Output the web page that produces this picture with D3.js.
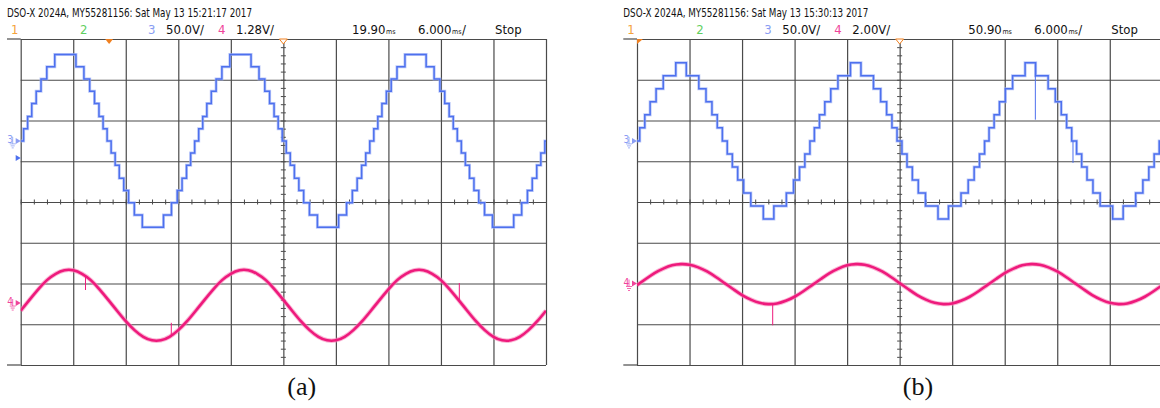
<!DOCTYPE html>
<html>
<head>
<meta charset="utf-8">
<script src="https://cdn.jsdelivr.net/npm/d3@7"></script>
<style>
  html, body { margin: 0; padding: 0; background: #fff; }
  svg { display: block; }
  .hdr { font-family: "Liberation Sans Narrow", "Arial Narrow", "DejaVu Sans Condensed", sans-serif; fill: #111; }
  .grid line { stroke: #4a4a4a; stroke-width: 1.2; }
  .grid path { display: none; }
  .minor line { stroke: #4a4a4a; stroke-width: 1; }
  .minor path { display: none; }
  .caption { font-family: "Liberation Serif", "Times New Roman", serif; font-size: 26px; fill: #111; }
</style>
</head>
<body>
<div id="wrapper"></div>
<script>
// screen time is ms from the left graticule edge (10 div x 6 ms), vertical in divisions
const timeTicks = [0, 6, 12, 18, 24, 30, 36, 42, 48, 54, 60]
const divTicks = [-4, -3, -2, -1, 0, 1, 2, 3, 4]

// ---------- panel (a) ----------
const headerA = 'DSO-X 2024A, MY55281156: Sat May 13 15:21:17 2017'
const ch3LabelA = '50.0V/'
const ch4LabelA = '1.28V/'
const delayA = 19.90
const timebaseA = 6.000
const ch3ScaleA = 50.0
const ch4ScaleA = 1.28
const ch3OffsetA = 1.5     // div
const ch4OffsetA = -2.48   // div

// stepped inverter voltage (ch3): time of each step, level after the step (V)
const blueTimesA = [0,
  0.33, 0.79, 1.26, 1.77, 2.32, 2.98, 3.89, 6.31, 7.22, 7.88, 8.43, 8.94, 9.41, 9.87,
  10.33, 10.79, 11.26, 11.77, 12.32, 12.98, 13.89, 16.31, 17.22, 17.88, 18.43, 18.94, 19.41, 19.87,
  20.33, 20.79, 21.26, 21.77, 22.32, 22.98, 23.89, 26.31, 27.22, 27.88, 28.43, 28.94, 29.41, 29.87,
  30.33, 30.79, 31.26, 31.77, 32.32, 32.98, 33.89, 36.31, 37.22, 37.88, 38.43, 38.94, 39.41, 39.87,
  40.33, 40.79, 41.26, 41.77, 42.32, 42.98, 43.89, 46.31, 47.22, 47.88, 48.43, 48.94, 49.41, 49.87,
  50.33, 50.79, 51.26, 51.77, 52.32, 52.98, 53.89, 56.31, 57.22, 57.88, 58.43, 58.94, 59.41, 59.87,
  60]
const blueVoltsA = [0,
  15, 30, 46, 61, 76, 91, 106, 91, 76, 61, 46, 30, 15, 0,
  -15, -30, -46, -61, -76, -91, -106, -91, -76, -61, -46, -30, -15, 0,
  15, 30, 46, 61, 76, 91, 106, 91, 76, 61, 46, 30, 15, 0,
  -15, -30, -46, -61, -76, -91, -106, -91, -76, -61, -46, -30, -15, 0,
  15, 30, 46, 61, 76, 91, 106, 91, 76, 61, 46, 30, 15, 0,
  -15, -30, -46, -61, -76, -91, -106, -91, -76, -61, -46, -30, -15, 0,
  0]
const blueSpikesA = []

// load current (ch4), sampled every ms
const pinkTimes = [0, 1, 2, 3, 4, 5, 6, 7, 8, 9, 10, 11, 12, 13, 14, 15, 16, 17, 18, 19,
  20, 21, 22, 23, 24, 25, 26, 27, 28, 29, 30, 31, 32, 33, 34, 35, 36, 37, 38, 39,
  40, 41, 42, 43, 44, 45, 46, 47, 48, 49, 50, 51, 52, 53, 54, 55, 56, 57, 58, 59, 60]
const pinkVoltsA = [
  -0.24, 0.10, 0.43, 0.72, 0.92, 1.03, 1.03, 0.92, 0.72, 0.43, 0.10, -0.24, -0.57, -0.85, -1.06, -1.17, -1.17, -1.06, -0.85, -0.57,
  -0.24, 0.10, 0.43, 0.72, 0.92, 1.03, 1.03, 0.92, 0.72, 0.43, 0.10, -0.24, -0.57, -0.85, -1.06, -1.17, -1.17, -1.06, -0.85, -0.57,
  -0.24, 0.10, 0.43, 0.72, 0.92, 1.03, 1.03, 0.92, 0.72, 0.43, 0.10, -0.24, -0.57, -0.85, -1.06, -1.17, -1.17, -1.06, -0.85, -0.57,
  -0.24]
// glitches: [time, from V, to V]
const pinkSpikesA = [[7.4, 0.85, 0.41], [17.2, -1.06, -0.62], [50.1, 0.07, 0.63]]

// ---------- panel (b) ----------
const headerB = 'DSO-X 2024A, MY55281156: Sat May 13 15:30:13 2017'
const ch3LabelB = '50.0V/'
const ch4LabelB = '2.00V/'
const delayB = 50.90
const timebaseB = 6.000
const ch3ScaleB = 50.0
const ch4ScaleB = 2.00
const ch3OffsetB = 1.5
const ch4OffsetB = -2.0

const blueTimesB = [0,
  0.31, 0.89, 1.50, 2.18, 3.00, 4.43, 5.63, 7.06, 7.88, 8.56, 9.17, 9.75,
  10.31, 10.89, 11.50, 12.18, 13.00, 14.43, 15.63, 17.06, 17.88, 18.56, 19.17, 19.75,
  20.26, 20.84, 21.45, 22.13, 22.95, 24.38, 25.58, 27.01, 27.83, 28.51, 29.12, 29.70,
  30.26, 30.84, 31.45, 32.13, 32.95, 34.38, 35.58, 37.01, 37.83, 38.51, 39.12, 39.70,
  40.21, 40.79, 41.40, 42.08, 42.90, 44.33, 45.53, 46.96, 47.78, 48.46, 49.07, 49.65,
  50.21, 50.79, 51.40, 52.08, 52.90, 54.33, 55.53, 56.96, 57.78, 58.46, 59.07, 59.65,
  60]
const blueVoltsB = [0,
  16, 32, 48, 64, 80, 96, 80, 64, 48, 32, 16, 0,
  -16, -32, -48, -64, -80, -96, -80, -64, -48, -32, -16, 0,
  16, 32, 48, 64, 80, 96, 80, 64, 48, 32, 16, 0,
  -16, -32, -48, -64, -80, -96, -80, -64, -48, -32, -16, 0,
  16, 32, 48, 64, 80, 96, 80, 64, 48, 32, 16, 0,
  -16, -32, -48, -64, -80, -96, -80, -64, -48, -32, -16, 0,
  0]
const blueSpikesB = [[45.5, 96, 26], [49.8, 0, -27]]

const pinkVoltsB = [
  -0.08, 0.22, 0.51, 0.73, 0.89, 0.95, 0.92, 0.79, 0.59, 0.32, 0.02, -0.28, -0.57, -0.79, -0.95, -1.01, -0.98, -0.85, -0.65, -0.38,
  -0.08, 0.22, 0.51, 0.73, 0.89, 0.95, 0.92, 0.79, 0.59, 0.32, 0.02, -0.28, -0.57, -0.79, -0.95, -1.01, -0.98, -0.85, -0.65, -0.38,
  -0.08, 0.22, 0.51, 0.73, 0.89, 0.95, 0.92, 0.79, 0.59, 0.32, 0.02, -0.28, -0.57, -0.79, -0.95, -1.01, -0.98, -0.85, -0.65, -0.38,
  -0.08]
const pinkSpikesB = [[15.5, -0.99, -2.05]]

// ---------- drawing ----------
const colors = {
  ch1: '#f4a23c', ch2: '#5fcf5f', ch3: '#8a9df3', ch4: '#f0449a',
  blue: '#4d70ee', blueHalo: '#9fb2f7', pink: '#ee1a7c', pinkHalo: '#f686b9',
  trig: '#f08020'
}

const dimensions = { width: 1160, height: 408, top: 39, bottom: 365, gridWidth: 525.3 }

const wrapper = d3.select('#wrapper')
  .append('svg')
  .attr('width', dimensions.width)
  .attr('height', dimensions.height)

function drawScope(p) {
  const left = p.left
  const xScale = d3.scaleLinear().domain([0, 60]).range([left, left + dimensions.gridWidth])
  const yScale = d3.scaleLinear().domain([-4, 4]).range([dimensions.bottom, dimensions.top])
  const yCh3 = v => yScale(v / p.ch3Scale + p.ch3Offset)
  const yCh4 = v => yScale(v / p.ch4Scale + p.ch4Offset)

  const g = wrapper.append('g')

  // header, first line
  g.append('text')
    .attr('class', 'hdr')
    .attr('x', left - 13.7)
    .attr('y', 17)
    .attr('font-size', 12)
    .attr('textLength', 245)
    .attr('lengthAdjust', 'spacingAndGlyphs')
    .text(p.header)

  // header, second line
  const line2 = (dx, txt, color) => g.append('text')
    .attr('class', 'hdr')
    .attr('x', left + dx)
    .attr('y', 33.5)
    .attr('font-size', 13)
    .style('fill', color || '#111')
    .text(txt)

  line2(-9.7, '1', colors.ch1)
  line2(59.3, '2', colors.ch2)
  line2(127.3, '3', colors.ch3)
  line2(145.3, p.ch3Label)
  line2(197.3, '4', colors.ch4)
  line2(215.3, p.ch4Label)

  // number with the tiny "ms" unit, all in one text element
  const withUnit = (dx, txt, slash) => {
    const t = line2(dx, txt)
    t.append('tspan').attr('font-size', 7).attr('dx', 0.6).text('ms')
    if (slash) t.append('tspan').attr('dx', 0.5).text('/')
  }
  withUnit(331.3, p.delay.toFixed(2), false)
  withUnit(397.3, p.timebase.toFixed(3), true)
  line2(474.3, 'Stop')

  // graticule
  g.append('g')
    .attr('class', 'grid')
    .attr('transform', `translate(0,${dimensions.bottom})`)
    .call(d3.axisBottom(xScale)
      .tickValues(timeTicks)
      .tickSize(-(dimensions.bottom - dimensions.top))
      .tickFormat(''))

  g.append('g')
    .attr('class', 'grid')
    .attr('transform', `translate(${left},0)`)
    .call(d3.axisLeft(yScale)
      .tickValues(divTicks)
      .tickSize(-dimensions.gridWidth)
      .tickFormat(''))

  // top and bottom frame lines run out past the left edge
  g.selectAll('line.frame')
    .data([dimensions.top, dimensions.bottom])
    .join('line')
    .attr('class', 'frame')
    .attr('x1', left - 13.7)
    .attr('x2', left)
    .attr('y1', d => d)
    .attr('y2', d => d)
    .attr('stroke', '#4a4a4a')
    .attr('stroke-width', 1.2)

  // minor ticks on the centre cross
  const hMinor = d3.range(0, 60.01, 1.5)
  const vMinor = d3.range(-4, 4.01, 0.2)
  const y0 = yScale(0), x0 = xScale(30)
  g.append('g').attr('class', 'minor').attr('transform', `translate(0,${y0})`)
    .call(d3.axisBottom(xScale).tickValues(hMinor).tickSize(2.5).tickFormat(''))
  g.append('g').attr('class', 'minor').attr('transform', `translate(0,${y0})`)
    .call(d3.axisTop(xScale).tickValues(hMinor).tickSize(2.5).tickFormat(''))
  g.append('g').attr('class', 'minor').attr('transform', `translate(${x0},0)`)
    .call(d3.axisLeft(yScale).tickValues(vMinor).tickSize(2.5).tickFormat(''))
  g.append('g').attr('class', 'minor').attr('transform', `translate(${x0},0)`)
    .call(d3.axisRight(yScale).tickValues(vMinor).tickSize(2.5).tickFormat(''))

  // traces
  const plot = g.append('g')
  plot.append('clipPath').attr('id', 'clip' + p.id)
    .append('rect')
    .attr('x', left).attr('y', dimensions.top)
    .attr('width', dimensions.gridWidth).attr('height', dimensions.bottom - dimensions.top)
  plot.attr('clip-path', `url(#clip${p.id})`)

  const blueLine = d3.line()
    .x((d, i) => xScale(p.blueTimes[i]))
    .y(d => yCh3(d))
    .curve(d3.curveStepAfter)

  const pinkLine = d3.line()
    .x((d, i) => xScale(pinkTimes[i]))
    .y(d => yCh4(d))
    .curve(d3.curveNatural)

  plot.append('path')
    .attr('d', blueLine(p.blueVolts))
    .attr('fill', 'none')
    .attr('stroke', colors.blueHalo)
    .attr('stroke-width', 3)
    .attr('opacity', 0.7)
  plot.append('path')
    .attr('d', blueLine(p.blueVolts))
    .attr('fill', 'none')
    .attr('stroke', colors.blue)
    .attr('stroke-width', 1.5)

  plot.selectAll('line.bspike')
    .data(p.blueSpikes)
    .join('line')
    .attr('class', 'bspike')
    .attr('x1', d => xScale(d[0])).attr('x2', d => xScale(d[0]))
    .attr('y1', d => yCh3(d[1])).attr('y2', d => yCh3(d[2]))
    .attr('stroke', colors.blue)
    .attr('stroke-width', 1)

  plot.append('path')
    .attr('d', pinkLine(p.pinkVolts))
    .attr('fill', 'none')
    .attr('stroke', colors.pinkHalo)
    .attr('stroke-width', 4.5)
    .attr('opacity', 0.6)
  plot.append('path')
    .attr('d', pinkLine(p.pinkVolts))
    .attr('fill', 'none')
    .attr('stroke', colors.pink)
    .attr('stroke-width', 2.6)

  plot.selectAll('line.pspike')
    .data(p.pinkSpikes)
    .join('line')
    .attr('class', 'pspike')
    .attr('x1', d => xScale(d[0])).attr('x2', d => xScale(d[0]))
    .attr('y1', d => yCh4(d[1])).attr('y2', d => yCh4(d[2]))
    .attr('stroke', colors.pink)
    .attr('stroke-width', 1)

  // channel ground markers
  const chanMarker = (yy, label, color) => {
    g.append('text')
      .attr('class', 'hdr')
      .attr('x', left - 13.5)
      .attr('y', yy + 2)
      .attr('font-size', 10)
      .style('fill', color)
      .text(label)
    g.append('path')
      .attr('d', `M${left - 8},${yy - 4}V${yy + 3}M${left - 11},${yy + 3}H${left - 5}M${left - 10},${yy + 5}H${left - 6}M${left - 9},${yy + 7}H${left - 7}`)
      .attr('stroke', color)
      .attr('stroke-width', 0.8)
      .attr('fill', 'none')
    g.append('path')
      .attr('d', `M${left - 5},${yy - 3}L${left},${yy}L${left - 5},${yy + 3}Z`)
      .attr('fill', color)
  }
  chanMarker(yCh3(0), '3', colors.ch3)
  chanMarker(yCh4(0), '4', colors.ch4)
  if (p.trigLevel !== null) {
    const ty = yCh3(p.trigLevel)
    g.append('path')
      .attr('d', `M${left - 5},${ty - 3}L${left},${ty}L${left - 5},${ty + 3}Z`)
      .attr('fill', colors.blue)
  }

  // trigger position and delay reference
  const trigT = 30 - p.delay
  if (trigT >= 0) {
    const tx = xScale(trigT)
    g.append('path')
      .attr('d', `M${tx - 4},${dimensions.top}L${tx + 4},${dimensions.top}L${tx},${dimensions.top + 5}Z`)
      .attr('fill', colors.trig)
  } else {
    g.append('path')
      .attr('d', `M${left},${dimensions.top}L${left + 6},${dimensions.top}L${left},${dimensions.top + 5}Z`)
      .attr('fill', colors.trig)
  }
  const rx = xScale(30)
  g.append('path')
    .attr('d', `M${rx - 4},${dimensions.top}L${rx + 4},${dimensions.top}L${rx},${dimensions.top + 5}Z`)
    .attr('fill', '#fff')
    .attr('stroke', colors.trig)
    .attr('stroke-width', 1)

  // caption
  g.append('text')
    .attr('class', 'caption')
    .attr('x', left + 281)
    .attr('y', 395)
    .attr('text-anchor', 'middle')
    .text(p.caption)
}

drawScope({
  id: 'a', left: 20.7, caption: '(a)', header: headerA,
  ch3Label: ch3LabelA, ch4Label: ch4LabelA, delay: delayA, timebase: timebaseA,
  ch3Scale: ch3ScaleA, ch4Scale: ch4ScaleA, ch3Offset: ch3OffsetA, ch4Offset: ch4OffsetA,
  blueTimes: blueTimesA, blueVolts: blueVoltsA, blueSpikes: blueSpikesA,
  pinkVolts: pinkVoltsA, pinkSpikes: pinkSpikesA, trigLevel: -21
})

drawScope({
  id: 'b', left: 637, caption: '(b)', header: headerB,
  ch3Label: ch3LabelB, ch4Label: ch4LabelB, delay: delayB, timebase: timebaseB,
  ch3Scale: ch3ScaleB, ch4Scale: ch4ScaleB, ch3Offset: ch3OffsetB, ch4Offset: ch4OffsetB,
  blueTimes: blueTimesB, blueVolts: blueVoltsB, blueSpikes: blueSpikesB,
  pinkVolts: pinkVoltsB, pinkSpikes: pinkSpikesB, trigLevel: null
})
</script>
</body>
</html>
